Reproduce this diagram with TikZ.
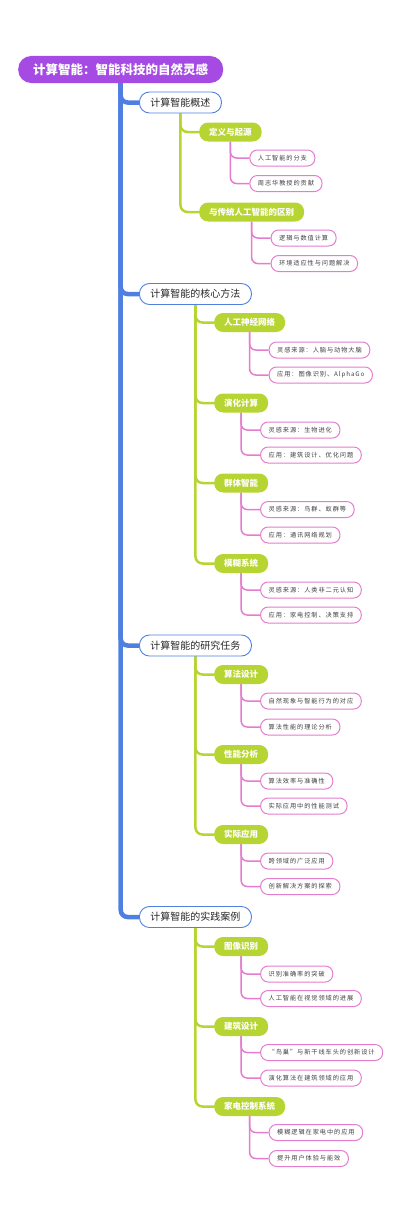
\documentclass[tikz,border=0pt]{standalone}
\usepackage{fontspec}
\newfontfamily\cjk{Noto Sans CJK SC}
\newfontfamily\cjkleaf[LetterSpace=15]{Noto Sans CJK SC}
\definecolor{cpurple}{HTML}{A54BE3}
\definecolor{cblue}{HTML}{4F80E1}
\definecolor{cgreen}{HTML}{B7D532}
\definecolor{cpink}{HTML}{E57DCF}
\pgfdeclarelayer{bg}
\pgfsetlayers{bg,main}
\newcommand\mklone[3]{% name, y, text
  \node[lone] (#1) at (139,#2) {#3};
  \begin{pgfonlayer}{bg}\draw[bl] (R.south) |- (#1.west);\end{pgfonlayer}}
\newcommand\mkltwo[4]{% parent, name, y, text
  \path (#1.center) ++(18.5,0) coordinate (p#2);
  \node[ltwo] (#2) at (p#2 |- 0,#3) {#4};
  \begin{pgfonlayer}{bg}\draw[gl] (#1.south) |- (#2.west);\end{pgfonlayer}}
\newcommand\mkleaf[4]{% parent, name, y, text
  \path (#1.center) ++(19,0) coordinate (p#2);
  \node[leaf] (#2) at (p#2 |- 0,#3) {#4};
  \begin{pgfonlayer}{bg}\draw[pl] (#1.south) |- (#2.west);\end{pgfonlayer}}
\begin{document}
\begin{tikzpicture}[x=1pt,y=-1pt,
  rootn/.style={fill=cpurple, rounded corners=13pt, minimum height=27pt, inner xsep=15pt, text=white, font=\cjk\bfseries\fontsize{12.5}{14}\selectfont, anchor=west},
  lone/.style={draw=cblue, line width=0.9pt, fill=white, rounded corners=10pt, minimum height=21pt, inner xsep=11pt, font=\cjk\fontsize{10}{12}\selectfont, text=black!85, anchor=west},
  ltwo/.style={fill=cgreen, rounded corners=9pt, minimum height=19pt, inner xsep=10pt, text=white, font=\cjk\bfseries\fontsize{8.5}{10}\selectfont, anchor=west},
  leaf/.style={draw=cpink, line width=1pt, fill=white, rounded corners=7.5pt, minimum height=16pt, inner xsep=8pt, font=\cjkleaf\fontsize{6.2}{7}\selectfont, text=black!75, anchor=west},
  bl/.style={draw=cblue, line width=4.5pt, rounded corners=7pt},
  gl/.style={draw=cgreen, line width=2.5pt, rounded corners=7pt},
  pl/.style={draw=cpink, line width=1.5pt, rounded corners=6pt},
]
\useasboundingbox (0,0) rectangle (400,1223);
\node[rootn] (R) at (18,69.5) {计算智能：智能科技的自然灵感};

\mklone{A}{102.5}{计算智能概述}
\mklone{B}{294}{计算智能的核心方法}
\mklone{C}{645.5}{计算智能的研究任务}
\mklone{D}{917}{计算智能的实践案例}

\mkltwo{A}{A1}{132}{定义与起源}
\mkltwo{A}{A2}{212}{与传统人工智能的区别}
\mkltwo{B}{B1}{322.5}{人工神经网络}
\mkltwo{B}{B2}{403}{演化计算}
\mkltwo{B}{B3}{483}{群体智能}
\mkltwo{B}{B4}{563.5}{模糊系统}
\mkltwo{C}{C1}{674.5}{算法设计}
\mkltwo{C}{C2}{754.5}{性能分析}
\mkltwo{C}{C3}{834.5}{实际应用}
\mkltwo{D}{D1}{946.5}{图像识别}
\mkltwo{D}{D2}{1026.5}{建筑设计}
\mkltwo{D}{D3}{1106.5}{家电控制系统}

\mkleaf{A1}{A1a}{158}{人工智能的分支}
\mkleaf{A1}{A1b}{183.5}{周志华教授的贡献}
\mkleaf{A2}{A2a}{238}{逻辑与数值计算}
\mkleaf{A2}{A2b}{263.5}{环境适应性与问题解决}
\mkleaf{B1}{B1a}{350}{灵感来源：人脑与动物大脑}
\mkleaf{B1}{B1b}{375}{应用：图像识别、AlphaGo}
\mkleaf{B2}{B2a}{430}{灵感来源：生物进化}
\mkleaf{B2}{B2b}{455}{应用：建筑设计、优化问题}
\mkleaf{B3}{B3a}{509.5}{灵感来源：鸟群、蚁群等}
\mkleaf{B3}{B3b}{535}{应用：通讯网络规划}
\mkleaf{B4}{B4a}{590}{灵感来源：人类非二元认知}
\mkleaf{B4}{B4b}{615}{应用：家电控制、决策支持}
\mkleaf{C1}{C1a}{701}{自然现象与智能行为的对应}
\mkleaf{C1}{C1b}{727}{算法性能的理论分析}
\mkleaf{C2}{C2a}{781}{算法效率与准确性}
\mkleaf{C2}{C2b}{806}{实际应用中的性能测试}
\mkleaf{C3}{C3a}{861}{跨领域的广泛应用}
\mkleaf{C3}{C3b}{886.5}{创新解决方案的探索}
\mkleaf{D1}{D1a}{974}{识别准确率的突破}
\mkleaf{D1}{D1b}{998.5}{人工智能在视觉领域的进展}
\mkleaf{D2}{D2a}{1052.5}{“鸟巢”与新干线车头的创新设计}
\mkleaf{D2}{D2b}{1078}{演化算法在建筑领域的应用}
\mkleaf{D3}{D3a}{1132.5}{模糊逻辑在家电中的应用}
\mkleaf{D3}{D3b}{1158.5}{提升用户体验与能效}
\end{tikzpicture}
\end{document}
